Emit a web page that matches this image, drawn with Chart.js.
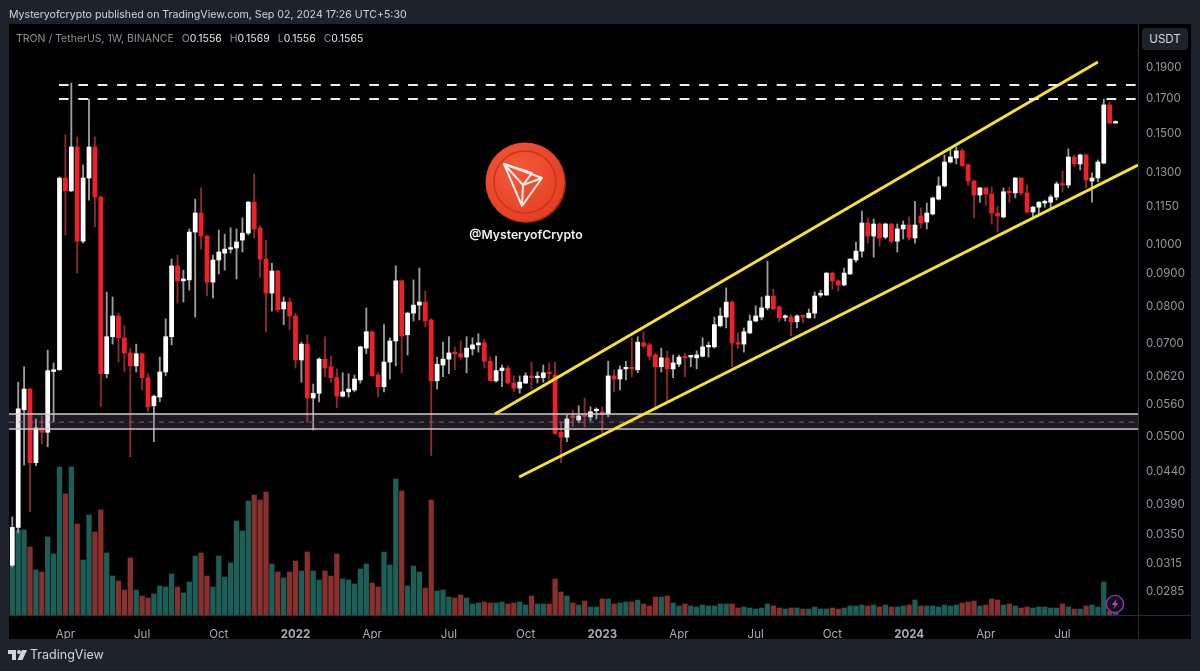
<!DOCTYPE html>
<html>
<head>
<meta charset="utf-8">
<title>TRON / TetherUS</title>
<script src="https://cdn.jsdelivr.net/npm/chart.js@4/dist/chart.umd.min.js"></script>
<style>
    html, body { margin: 0; padding: 0; width: 1200px; height: 671px; overflow: hidden; background: #1e222d; font-family: 'Inter', sans-serif; }
    #wrap { position: absolute; left: 0; top: 0; width: 1200px; height: 671px; }
    .txt { position: absolute; white-space: nowrap; line-height: 1; }
    #published { left: 9px; top: 10px; font-size: 10.6px; color: #d1d4dc; }
    #legend { left: 16px; top: 34px; font-size: 10.5px; color: #8f929b; }
    #legend b { font-weight: 400; color: #e4e6ea; }
    #legend span { margin-left: 5px; }
    #currency { left: 1142px; top: 28px; width: 46px; height: 22px; line-height: 22px; text-align: center; font-size: 11.5px; font-weight: 400; color: #d1d4dc; background: #1e222d; border-radius: 4px; }
    #handle { left: 426px; width: 200px; top: 229px; text-align: center; font-size: 12.2px; font-weight: 600; color: #f0f0f0; }
    #brand { left: 30px; top: 649px; font-size: 12.5px; color: #d1d4dc; }
    svg { position: absolute; }
</style>
</head>
<body>
<div id="wrap"><canvas id="chart"></canvas></div>

<div class="txt" id="published">Mysteryofcrypto published on TradingView.com, Sep 02, 2024 17:26 UTC+5:30</div>
<div class="txt" id="legend">TRON / TetherUS, 1W, BINANCE <span>O<b>0.1556</b></span> <span>H<b>0.1569</b></span> <span>L<b>0.1556</b></span> <span>C<b>0.1565</b></span></div>
<div class="txt" id="currency">USDT</div>
<div class="txt" id="handle">@MysteryofCrypto</div>
<div class="txt" id="brand">TradingView</div>

<!-- logo TRON -->
<svg style="left:480px;top:138px" width="92" height="90" viewBox="0 0 92 90">
    <defs>
        <radialGradient id="coin" cx="40%" cy="35%" r="75%">
            <stop offset="0" stop-color="#f5583a"/>
            <stop offset="1" stop-color="#e23c20"/>
        </radialGradient>
    </defs>
    <circle cx="46" cy="45" r="40" fill="#a82a16"/>
    <circle cx="45" cy="44" r="39.5" fill="url(#coin)"/>
    <circle cx="45" cy="44" r="31" fill="none" stroke="#c93218" stroke-width="1.5"/>
    <g fill="none" stroke="#fbeee9" stroke-width="2" stroke-linejoin="round">
        <path d="M24 26 L62 40 L42 68 Z"/>
        <path d="M24 26 L43 47 L42 68"/>
        <path d="M43 47 L62 40"/>
        <path d="M24 26 L52 35 L43 47"/>
    </g>
</svg>

<!-- icono rayo -->
<svg style="left:1105px;top:594px" width="20" height="20" viewBox="0 0 20 20">
    <circle cx="10" cy="10" r="8.6" fill="#14101a" stroke="#9333b5" stroke-width="1.4"/>
    <path d="M11.6 4.8 L6.8 11 L9.6 11 L8.4 15.2 L13.2 9 L10.4 9 Z" fill="#a94fd0"/>
</svg>

<!-- logo TradingView -->
<svg style="left:8px;top:650px" width="19" height="11" viewBox="0 0 19 11">
    <path d="M0 0 H8 V10 H4 V4 H0 Z M14 0 H19 L14.5 10 H9.5 Z" fill="#d1d4dc"/>
    <circle cx="11" cy="2" r="2" fill="#d1d4dc"/>
</svg>

<script>
// Velas semanales TRX/USDT
const opens = [
    0.0313, 0.0359, 0.0550, 0.0593, 0.0454, 0.0515, 0.0507, 0.0632, 0.0636, 0.1275,
    0.1217, 0.1427, 0.1014, 0.1275, 0.1427, 0.1190, 0.0627, 0.0717, 0.0773, 0.0714,
    0.0676, 0.0645, 0.0674, 0.0618, 0.0558, 0.0576, 0.0631, 0.0717, 0.0927, 0.0878,
    0.0881, 0.1048, 0.1123, 0.1033, 0.0874, 0.0947, 0.0971, 0.0985, 0.0989, 0.1018,
    0.1044, 0.1168, 0.1064, 0.0950, 0.0840, 0.0910, 0.0793, 0.0813, 0.0773, 0.0659,
    0.0698, 0.0574, 0.0584, 0.0661, 0.0643, 0.0618, 0.0578, 0.0587, 0.0591, 0.0613,
    0.0688, 0.0730, 0.0624, 0.0598, 0.0654, 0.0706, 0.0878, 0.0722, 0.0781, 0.0804,
    0.0813, 0.0762, 0.0611, 0.0647, 0.0661, 0.0676, 0.0674, 0.0666, 0.0686, 0.0696,
    0.0701, 0.0656, 0.0611, 0.0634, 0.0640, 0.0606, 0.0595, 0.0606, 0.0622, 0.0618,
    0.0618, 0.0629, 0.0624, 0.0507, 0.0498, 0.0536, 0.0530, 0.0538, 0.0536, 0.0548,
    0.0546, 0.0542, 0.0622, 0.0615, 0.0638, 0.0640, 0.0636, 0.0701, 0.0696, 0.0671,
    0.0643, 0.0664, 0.0638, 0.0649, 0.0666, 0.0666, 0.0664, 0.0668, 0.0691, 0.0691,
    0.0746, 0.0770, 0.0813, 0.0701, 0.0698, 0.0727, 0.0759, 0.0770, 0.0796, 0.0831,
    0.0799, 0.0769, 0.0770, 0.0757, 0.0773, 0.0768, 0.0781, 0.0834, 0.0834, 0.0903,
    0.0878, 0.0865, 0.0900, 0.0947, 0.0978, 0.1083, 0.1033, 0.1079, 0.1029, 0.1079,
    0.1014, 0.1060, 0.1075, 0.1026, 0.1111, 0.1087, 0.1119, 0.1181, 0.1239, 0.1351,
    0.1371, 0.1407, 0.1337, 0.1261, 0.1199, 0.1230, 0.1203, 0.1123, 0.1107, 0.1213,
    0.1208, 0.1275, 0.1208, 0.1127, 0.1147, 0.1164, 0.1168, 0.1190, 0.1248, 0.1243,
    0.1376, 0.1342, 0.1386, 0.1261, 0.1275, 0.1346, 0.1662, 0.1556
];
const highs = [
    0.0373, 0.0608, 0.0643, 0.0595, 0.0532, 0.0538, 0.0683, 0.0652, 0.1280, 0.1491,
    0.1799, 0.1480, 0.1337, 0.1698, 0.1480, 0.1195, 0.0843, 0.0828, 0.0781, 0.0746,
    0.0688, 0.0698, 0.0676, 0.0627, 0.0580, 0.0666, 0.0765, 0.0950, 0.0964, 0.0913,
    0.1060, 0.1181, 0.1230, 0.1035, 0.0964, 0.1056, 0.1040, 0.1064, 0.1060, 0.1103,
    0.1172, 0.1294, 0.1072, 0.1018, 0.0936, 0.0913, 0.0828, 0.0825, 0.0781, 0.0703,
    0.0722, 0.0604, 0.0664, 0.0717, 0.0668, 0.0638, 0.0629, 0.0627, 0.0624, 0.0693,
    0.0796, 0.0732, 0.0629, 0.0749, 0.0714, 0.0927, 0.0881, 0.0784, 0.0881, 0.0920,
    0.0846, 0.0765, 0.0666, 0.0703, 0.0717, 0.0691, 0.0706, 0.0717, 0.0714, 0.0725,
    0.0711, 0.0666, 0.0668, 0.0647, 0.0645, 0.0622, 0.0622, 0.0629, 0.0654, 0.0631,
    0.0647, 0.0652, 0.0654, 0.0526, 0.0540, 0.0550, 0.0558, 0.0574, 0.0556, 0.0554,
    0.0556, 0.0656, 0.0636, 0.0645, 0.0656, 0.0714, 0.0717, 0.0730, 0.0701, 0.0676,
    0.0688, 0.0681, 0.0671, 0.0671, 0.0676, 0.0671, 0.0681, 0.0714, 0.0703, 0.0770,
    0.0796, 0.0856, 0.0816, 0.0727, 0.0740, 0.0776, 0.0802, 0.0828, 0.0943, 0.0852,
    0.0802, 0.0776, 0.0776, 0.0776, 0.0776, 0.0793, 0.0843, 0.0849, 0.0905, 0.0907,
    0.0881, 0.0920, 0.0952, 0.1011, 0.1131, 0.1103, 0.1099, 0.1083, 0.1083, 0.1081,
    0.1079, 0.1091, 0.1107, 0.1172, 0.1144, 0.1164, 0.1190, 0.1280, 0.1386, 0.1417,
    0.1427, 0.1417, 0.1342, 0.1266, 0.1232, 0.1232, 0.1234, 0.1151, 0.1230, 0.1234,
    0.1277, 0.1277, 0.1243, 0.1151, 0.1170, 0.1177, 0.1199, 0.1257, 0.1308, 0.1417,
    0.1386, 0.1391, 0.1391, 0.1299, 0.1361, 0.1698, 0.1680, 0.1569
];
const lows = [
    0.0311, 0.0352, 0.0450, 0.0380, 0.0449, 0.0486, 0.0481, 0.0526, 0.0634, 0.1037,
    0.1213, 0.0903, 0.1007, 0.1177, 0.1068, 0.0556, 0.0618, 0.0698, 0.0654, 0.0631,
    0.0464, 0.0631, 0.0591, 0.0546, 0.0490, 0.0566, 0.0622, 0.0696, 0.0810, 0.0813,
    0.0849, 0.0770, 0.0985, 0.0831, 0.0825, 0.0900, 0.0913, 0.0971, 0.0884, 0.0975,
    0.1037, 0.1026, 0.0890, 0.0730, 0.0787, 0.0784, 0.0749, 0.0735, 0.0640, 0.0608,
    0.0526, 0.0511, 0.0566, 0.0620, 0.0608, 0.0554, 0.0576, 0.0576, 0.0587, 0.0606,
    0.0674, 0.0622, 0.0576, 0.0587, 0.0615, 0.0645, 0.0629, 0.0671, 0.0759, 0.0762,
    0.0743, 0.0466, 0.0593, 0.0620, 0.0627, 0.0636, 0.0661, 0.0629, 0.0671, 0.0678,
    0.0640, 0.0611, 0.0608, 0.0598, 0.0604, 0.0587, 0.0584, 0.0605, 0.0593, 0.0606,
    0.0608, 0.0613, 0.0503, 0.0454, 0.0490, 0.0517, 0.0525, 0.0517, 0.0528, 0.0532,
    0.0505, 0.0536, 0.0587, 0.0591, 0.0613, 0.0620, 0.0629, 0.0688, 0.0659, 0.0550,
    0.0631, 0.0568, 0.0618, 0.0643, 0.0620, 0.0643, 0.0638, 0.0666, 0.0666, 0.0688,
    0.0743, 0.0740, 0.0643, 0.0688, 0.0678, 0.0725, 0.0757, 0.0762, 0.0790, 0.0790,
    0.0757, 0.0759, 0.0719, 0.0740, 0.0754, 0.0767, 0.0767, 0.0828, 0.0833, 0.0852,
    0.0846, 0.0862, 0.0899, 0.0940, 0.0957, 0.1007, 0.0957, 0.0996, 0.1022, 0.1007,
    0.0975, 0.1022, 0.1018, 0.1007, 0.1064, 0.1060, 0.1115, 0.1177, 0.1234, 0.1346,
    0.1342, 0.1332, 0.1243, 0.1103, 0.1168, 0.1155, 0.1079, 0.1048, 0.1103, 0.1168,
    0.1186, 0.1199, 0.1123, 0.1107, 0.1119, 0.1147, 0.1144, 0.1177, 0.1213, 0.1230,
    0.1327, 0.1313, 0.1230, 0.1168, 0.1257, 0.1342, 0.1552, 0.1556
];
const closes = [
    0.0359, 0.0552, 0.0593, 0.0454, 0.0515, 0.0507, 0.0634, 0.0636, 0.1275, 0.1217,
    0.1427, 0.1014, 0.1275, 0.1427, 0.1190, 0.0627, 0.0717, 0.0773, 0.0714, 0.0676,
    0.0645, 0.0674, 0.0618, 0.0556, 0.0578, 0.0631, 0.0717, 0.0927, 0.0878, 0.0884,
    0.1048, 0.1123, 0.1033, 0.0874, 0.0947, 0.0975, 0.0985, 0.0989, 0.1011, 0.1044,
    0.1168, 0.1060, 0.0950, 0.0840, 0.0910, 0.0790, 0.0813, 0.0773, 0.0659, 0.0698,
    0.0574, 0.0584, 0.0661, 0.0640, 0.0618, 0.0578, 0.0587, 0.0593, 0.0615, 0.0691,
    0.0730, 0.0622, 0.0598, 0.0654, 0.0706, 0.0878, 0.0719, 0.0781, 0.0804, 0.0813,
    0.0759, 0.0611, 0.0649, 0.0661, 0.0676, 0.0674, 0.0666, 0.0688, 0.0696, 0.0701,
    0.0656, 0.0611, 0.0634, 0.0640, 0.0606, 0.0595, 0.0608, 0.0622, 0.0618, 0.0620,
    0.0629, 0.0627, 0.0505, 0.0498, 0.0532, 0.0535, 0.0538, 0.0537, 0.0546, 0.0550,
    0.0542, 0.0622, 0.0615, 0.0636, 0.0640, 0.0638, 0.0703, 0.0693, 0.0668, 0.0643,
    0.0664, 0.0638, 0.0652, 0.0666, 0.0664, 0.0668, 0.0671, 0.0691, 0.0693, 0.0749,
    0.0773, 0.0813, 0.0701, 0.0698, 0.0730, 0.0759, 0.0773, 0.0796, 0.0831, 0.0793,
    0.0768, 0.0770, 0.0757, 0.0773, 0.0770, 0.0781, 0.0831, 0.0837, 0.0903, 0.0878,
    0.0865, 0.0903, 0.0950, 0.0978, 0.1083, 0.1033, 0.1079, 0.1026, 0.1079, 0.1014,
    0.1060, 0.1075, 0.1026, 0.1075, 0.1083, 0.1123, 0.1186, 0.1239, 0.1351, 0.1376,
    0.1407, 0.1332, 0.1261, 0.1199, 0.1230, 0.1203, 0.1123, 0.1111, 0.1213, 0.1208,
    0.1275, 0.1208, 0.1127, 0.1147, 0.1168, 0.1172, 0.1190, 0.1248, 0.1243, 0.1376,
    0.1342, 0.1386, 0.1266, 0.1275, 0.1351, 0.1662, 0.1556, 0.1565
];
// Volumen relativo (no hay escala en la imagen, solo la altura de las barras)
const volumes = [
    49, 85, 85, 68, 45, 43, 78, 61, 148, 121,
    148, 91, 55, 100, 83, 105, 62, 39, 34, 25,
    57, 25, 19, 17, 21, 29, 28, 41, 28, 22,
    33, 59, 62, 39, 28, 59, 38, 52, 94, 84,
    114, 120, 115, 123, 51, 43, 37, 43, 54, 44,
    63, 44, 35, 44, 39, 61, 36, 35, 31, 46,
    51, 32, 28, 63, 50, 136, 124, 29, 49, 43,
    27, 115, 24, 25, 18, 17, 20, 17, 11, 12,
    13, 12, 12, 13, 11, 12, 13, 10, 19, 11,
    11, 11, 36, 23, 19, 12, 10, 14, 8, 8,
    16, 16, 11, 12, 13, 13, 15, 11, 9, 18,
    18, 19, 12, 9, 11, 9, 8, 10, 9, 9,
    11, 11, 11, 7, 8, 7, 6, 7, 11, 9,
    7, 6, 7, 7, 6, 6, 8, 6, 6, 7,
    6, 7, 9, 9, 10, 9, 10, 8, 10, 8,
    8, 9, 10, 15, 9, 9, 9, 8, 10, 9,
    10, 12, 13, 14, 9, 10, 16, 15, 10, 11,
    9, 7, 8, 7, 8, 8, 7, 7, 11, 8,
    6, 6, 9, 10, 8, 33, 4, 2
];
const volumeMax = 591;

// Ejes
const priceTicks = [0.19, 0.17, 0.15, 0.13, 0.115, 0.1, 0.09, 0.08, 0.07, 0.062, 0.056, 0.05, 0.044, 0.039, 0.035, 0.0315, 0.0285];
const priceMin = 0.02613;
const priceMax = 0.2229;
const timeTickWeeks = [9, 22, 35, 48, 61, 74, 87, 100, 113, 126, 139, 152, 165, 178];
const timeTickLabels = ['Apr', 'Jul', 'Oct', '2022', 'Apr', 'Jul', 'Oct', '2023', 'Apr', 'Jul', 'Oct', '2024', 'Apr', 'Jul'];
const weekMin = -0.56;
const weekMax = 190.8;

// Niveles y canal dibujados a mano en el gráfico
const resistanceLevels = [0.1786, 0.1698];
const resistanceStartWeek = 7.9;
const supportTop = 0.05416;
const supportMid = 0.0526;
const supportBottom = 0.0513;
const channelUpperWeeks = [81.8, 184.0];
const channelUpperPrices = [0.05416, 0.1942];
const channelLowerWeeks = [85.9, 190.8];
const channelLowerPrices = [0.0431, 0.1336];

const WHITE = '#ffffff';
const RED = '#ee2029';
const WICK_WHITE = '#9c9c9c';
const WICK_RED = '#8c2c31';
const VOL_UP = '#1c5f58';
const VOL_DOWN = '#87302e';

function isUp(i) {
    return closes[i] >= opens[i];
}

function levelLine(price, fromWeek) {
    return [{ x: fromWeek, y: price }, { x: weekMax, y: price }];
}

function twoPointLine(weeks, prices) {
    return weeks.map(function(w, i) {
        return { x: w, y: prices[i] };
    });
}

const lineBase = { type: 'line', pointRadius: 0, tension: 0, fill: false, xAxisID: 'x', yAxisID: 'y' };

const datasets = [
    {
        type: 'bar', label: 'Volume', order: 6, yAxisID: 'vol', xAxisID: 'x', grouped: false, barThickness: 4.6,
        data: volumes.map(function(v, i) { return { x: i, y: v }; }),
        backgroundColor: volumes.map(function(v, i) { return isUp(i) ? VOL_UP : VOL_DOWN; })
    },
    {
        type: 'bar', label: 'Wicks', order: 4, yAxisID: 'y', xAxisID: 'x', grouped: false, barThickness: 1.2,
        data: highs.map(function(h, i) { return { x: i, y: [lows[i], h] }; }),
        backgroundColor: highs.map(function(h, i) { return isUp(i) ? WICK_WHITE : WICK_RED; })
    },
    {
        type: 'bar', label: 'Bodies', order: 3, yAxisID: 'y', xAxisID: 'x', grouped: false, barThickness: 4.1, minBarLength: 1.6,
        data: opens.map(function(o, i) { return { x: i, y: [o, closes[i]] }; }),
        backgroundColor: opens.map(function(o, i) { return isUp(i) ? WHITE : RED; })
    },
    Object.assign({}, lineBase, {
        label: 'Support top', order: 2, data: levelLine(supportTop, weekMin),
        borderColor: '#cfcfcf', borderWidth: 1.5, fill: '+1', backgroundColor: 'rgba(150,130,165,0.2)'
    }),
    Object.assign({}, lineBase, {
        label: 'Support bottom', order: 2, data: levelLine(supportBottom, weekMin),
        borderColor: '#cfcfcf', borderWidth: 1.5
    }),
    Object.assign({}, lineBase, {
        label: 'Support mid', order: 2, data: levelLine(supportMid, weekMin),
        borderColor: '#7c4f8e', borderWidth: 1, borderDash: [5, 5]
    }),
    Object.assign({}, lineBase, {
        label: 'Resistance 1', order: 1, data: levelLine(resistanceLevels[0], resistanceStartWeek),
        borderColor: '#eeeeee', borderWidth: 2, borderDash: [9.7, 9.7]
    }),
    Object.assign({}, lineBase, {
        label: 'Resistance 2', order: 1, data: levelLine(resistanceLevels[1], resistanceStartWeek),
        borderColor: '#eeeeee', borderWidth: 2, borderDash: [9.7, 9.7]
    }),
    Object.assign({}, lineBase, {
        label: 'Channel upper', order: 1, data: twoPointLine(channelUpperWeeks, channelUpperPrices),
        borderColor: '#f6e22f', borderWidth: 3
    }),
    Object.assign({}, lineBase, {
        label: 'Channel lower', order: 1, data: twoPointLine(channelLowerWeeks, channelLowerPrices),
        borderColor: '#f6e22f', borderWidth: 3
    })
];

// Panel negro detrás del gráfico
const panePlugin = {
    id: 'pane',
    beforeDraw: function(chart) {
        const ctx = chart.ctx;
        ctx.save();
        ctx.fillStyle = '#1e222d';
        ctx.fillRect(0, 0, chart.width, chart.height);
        ctx.fillStyle = '#000000';
        ctx.fillRect(9, 24, 1182, 615);
        ctx.restore();
    },
    afterDraw: function(chart) {
        const ctx = chart.ctx;
        const area = chart.chartArea;
        ctx.save();
        ctx.strokeStyle = '#2a2e39';
        ctx.lineWidth = 1;
        ctx.beginPath();
        ctx.moveTo(area.right + 0.5, 24);
        ctx.lineTo(area.right + 0.5, 639);
        ctx.moveTo(9, area.bottom + 0.5);
        ctx.lineTo(1191, area.bottom + 0.5);
        ctx.stroke();
        ctx.restore();
    }
};

new Chart(document.getElementById('chart'), {
    data: { datasets: datasets },
    plugins: [panePlugin],
    options: {
        responsive: true,
        maintainAspectRatio: false,
        animation: false,
        devicePixelRatio: 1,
        layout: { padding: { left: 9, top: 24, right: 9, bottom: 32 } },
        plugins: { legend: { display: false }, tooltip: { enabled: false } },
        scales: {
            x: {
                type: 'linear',
                offset: false,
                min: weekMin,
                max: weekMax,
                grid: { display: false, offset: false },
                border: { display: false },
                afterBuildTicks: function(scale) {
                    scale.ticks = timeTickWeeks.map(function(w) { return { value: w }; });
                },
                afterFit: function(scale) { scale.height = 24; },
                ticks: {
                    autoSkip: false,
                    maxRotation: 0,
                    padding: 5,
                    color: '#a9acb5',
                    font: function(ctx) {
                        const isYear = ctx.tick && /^\d{4}$/.test(ctx.tick.label);
                        return { family: 'Inter', size: 11.5, weight: isYear ? '700' : '400' };
                    },
                    callback: function(value) {
                        return timeTickLabels[timeTickWeeks.indexOf(value)];
                    }
                }
            },
            y: {
                type: 'logarithmic',
                position: 'right',
                min: priceMin,
                max: priceMax,
                grid: { display: false, drawTicks: false },
                border: { display: false },
                afterBuildTicks: function(scale) {
                    scale.ticks = priceTicks.map(function(p) { return { value: p }; });
                },
                afterFit: function(scale) { scale.width = 53; },
                ticks: {
                    autoSkip: false,
                    padding: 8,
                    color: '#92959e',
                    font: { family: 'Inter', size: 11.5 },
                    callback: function(value) { return Number(value).toFixed(4); }
                }
            },
            vol: {
                type: 'linear',
                display: false,
                min: 0,
                max: volumeMax
            }
        }
    }
});
</script>
</body>
</html>
